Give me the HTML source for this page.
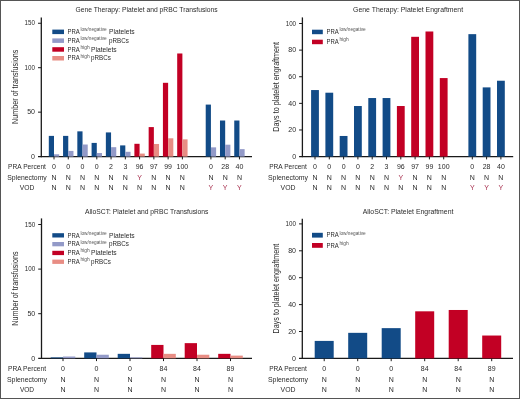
<!DOCTYPE html>
<html><head><meta charset="utf-8"><title>Platelet transfusions and engraftment</title>
<style>
html,body{margin:0;padding:0;background:#fff;}
body{width:520px;height:399px;overflow:hidden;}
svg{display:block;font-family:"Liberation Sans",sans-serif;will-change:transform;}
</style></head><body>
<svg width="520" height="399" viewBox="0 0 520 399">
<rect x="0" y="0" width="520" height="399" fill="#ffffff"/>
<text x="75.4" y="11.9" font-size="7.4" text-anchor="start" fill="#2a2a2a" textLength="142.3" lengthAdjust="spacingAndGlyphs">Gene Therapy: Platelet and pRBC Transfusions</text>
<line x1="41.3" y1="17.5" x2="41.3" y2="157.2" stroke="#1a1a1a" stroke-width="1.3"/>
<line x1="38" y1="156.6" x2="252" y2="156.6" stroke="#1a1a1a" stroke-width="1.3"/>
<text x="35" y="158.8" font-size="7" text-anchor="end" fill="#2a2a2a">0</text>
<line x1="38" y1="112.15" x2="41.3" y2="112.15" stroke="#1a1a1a" stroke-width="1"/>
<text x="35" y="114.35" font-size="7" text-anchor="end" fill="#2a2a2a">50</text>
<line x1="38" y1="67.7" x2="41.3" y2="67.7" stroke="#1a1a1a" stroke-width="1"/>
<text x="35" y="69.9" font-size="7" text-anchor="end" fill="#2a2a2a" textLength="10.4" lengthAdjust="spacingAndGlyphs">100</text>
<line x1="38" y1="23.25" x2="41.3" y2="23.25" stroke="#1a1a1a" stroke-width="1"/>
<text x="35" y="25.45" font-size="7" text-anchor="end" fill="#2a2a2a" textLength="10.4" lengthAdjust="spacingAndGlyphs">150</text>
<text transform="translate(17.8,86.8) rotate(-90)" x="0" y="0" font-size="8.5" text-anchor="middle" fill="#2a2a2a" textLength="74.2" lengthAdjust="spacingAndGlyphs">Number of transfusions</text>
<rect x="48.8" y="135.89" width="5.2" height="20.71" fill="#124b87"/>
<rect x="54" y="154.29" width="5.2" height="2.31" fill="#939ac8"/>
<line x1="54" y1="156.6" x2="54" y2="159.4" stroke="#1a1a1a" stroke-width="1"/>
<rect x="63.06" y="135.89" width="5.2" height="20.71" fill="#124b87"/>
<rect x="68.27" y="150.91" width="5.2" height="5.69" fill="#939ac8"/>
<line x1="68.27" y1="156.6" x2="68.27" y2="159.4" stroke="#1a1a1a" stroke-width="1"/>
<rect x="77.33" y="131.35" width="5.2" height="25.25" fill="#124b87"/>
<rect x="82.53" y="144.51" width="5.2" height="12.09" fill="#939ac8"/>
<line x1="82.53" y1="156.6" x2="82.53" y2="159.4" stroke="#1a1a1a" stroke-width="1"/>
<rect x="91.59" y="142.91" width="5.2" height="13.69" fill="#124b87"/>
<rect x="96.8" y="153.04" width="5.2" height="3.56" fill="#939ac8"/>
<line x1="96.8" y1="156.6" x2="96.8" y2="159.4" stroke="#1a1a1a" stroke-width="1"/>
<rect x="105.86" y="132.42" width="5.2" height="24.18" fill="#124b87"/>
<rect x="111.06" y="147.18" width="5.2" height="9.42" fill="#939ac8"/>
<line x1="111.06" y1="156.6" x2="111.06" y2="159.4" stroke="#1a1a1a" stroke-width="1"/>
<rect x="120.12" y="145.4" width="5.2" height="11.2" fill="#124b87"/>
<rect x="125.33" y="151.8" width="5.2" height="4.8" fill="#939ac8"/>
<line x1="125.33" y1="156.6" x2="125.33" y2="159.4" stroke="#1a1a1a" stroke-width="1"/>
<rect x="134.39" y="143.8" width="5.2" height="12.8" fill="#c20024"/>
<rect x="139.59" y="153.58" width="5.2" height="3.02" fill="#e88d84"/>
<line x1="139.59" y1="156.6" x2="139.59" y2="159.4" stroke="#1a1a1a" stroke-width="1"/>
<rect x="148.66" y="127.09" width="5.2" height="29.51" fill="#c20024"/>
<rect x="153.86" y="143.98" width="5.2" height="12.62" fill="#e88d84"/>
<line x1="153.86" y1="156.6" x2="153.86" y2="159.4" stroke="#1a1a1a" stroke-width="1"/>
<rect x="162.92" y="82.81" width="5.2" height="73.79" fill="#c20024"/>
<rect x="168.12" y="138.29" width="5.2" height="18.31" fill="#e88d84"/>
<line x1="168.12" y1="156.6" x2="168.12" y2="159.4" stroke="#1a1a1a" stroke-width="1"/>
<rect x="177.19" y="53.48" width="5.2" height="103.12" fill="#c20024"/>
<rect x="182.38" y="139.35" width="5.2" height="17.25" fill="#e88d84"/>
<line x1="182.38" y1="156.6" x2="182.38" y2="159.4" stroke="#1a1a1a" stroke-width="1"/>
<rect x="205.72" y="104.59" width="5.2" height="52.01" fill="#124b87"/>
<rect x="210.92" y="147.35" width="5.2" height="9.25" fill="#939ac8"/>
<line x1="210.92" y1="156.6" x2="210.92" y2="159.4" stroke="#1a1a1a" stroke-width="1"/>
<rect x="219.98" y="120.51" width="5.2" height="36.09" fill="#124b87"/>
<rect x="225.18" y="144.69" width="5.2" height="11.91" fill="#939ac8"/>
<line x1="225.18" y1="156.6" x2="225.18" y2="159.4" stroke="#1a1a1a" stroke-width="1"/>
<rect x="234.25" y="120.51" width="5.2" height="36.09" fill="#124b87"/>
<rect x="239.44" y="149.13" width="5.2" height="7.47" fill="#939ac8"/>
<line x1="239.44" y1="156.6" x2="239.44" y2="159.4" stroke="#1a1a1a" stroke-width="1"/>
<rect x="52.3" y="29.6" width="11.7" height="4.5" fill="#124b87"/>
<text x="67.5" y="34" font-size="7" text-anchor="start" fill="#2a2a2a" textLength="12.3" lengthAdjust="spacingAndGlyphs">PRA</text>
<text x="80.4" y="31.2" font-size="5" text-anchor="start" fill="#555555" textLength="26.3" lengthAdjust="spacingAndGlyphs">low/negative</text>
<text x="109" y="34" font-size="7" text-anchor="start" fill="#2a2a2a" textLength="25.6" lengthAdjust="spacingAndGlyphs">Platelets</text>
<rect x="52.3" y="38.4" width="11.7" height="4.5" fill="#939ac8"/>
<text x="67.5" y="42.8" font-size="7" text-anchor="start" fill="#2a2a2a" textLength="12.3" lengthAdjust="spacingAndGlyphs">PRA</text>
<text x="80.4" y="40" font-size="5" text-anchor="start" fill="#555555" textLength="26.3" lengthAdjust="spacingAndGlyphs">low/negative</text>
<text x="109" y="42.8" font-size="7" text-anchor="start" fill="#2a2a2a" textLength="19.8" lengthAdjust="spacingAndGlyphs">pRBCs</text>
<rect x="52.3" y="47.2" width="11.7" height="4.5" fill="#c20024"/>
<text x="67.5" y="51.6" font-size="7" text-anchor="start" fill="#2a2a2a" textLength="12.3" lengthAdjust="spacingAndGlyphs">PRA</text>
<text x="80.4" y="48.8" font-size="5" text-anchor="start" fill="#555555" textLength="9.2" lengthAdjust="spacingAndGlyphs">high</text>
<text x="91" y="51.6" font-size="7" text-anchor="start" fill="#2a2a2a" textLength="25.6" lengthAdjust="spacingAndGlyphs">Platelets</text>
<rect x="52.3" y="56" width="11.7" height="4.5" fill="#e88d84"/>
<text x="67.5" y="60.4" font-size="7" text-anchor="start" fill="#2a2a2a" textLength="12.3" lengthAdjust="spacingAndGlyphs">PRA</text>
<text x="80.4" y="57.6" font-size="5" text-anchor="start" fill="#555555" textLength="9.2" lengthAdjust="spacingAndGlyphs">high</text>
<text x="91" y="60.4" font-size="7" text-anchor="start" fill="#2a2a2a" textLength="19.8" lengthAdjust="spacingAndGlyphs">pRBCs</text>
<text x="27" y="169.3" font-size="7" text-anchor="middle" fill="#2a2a2a" textLength="37.8" lengthAdjust="spacingAndGlyphs">PRA Percent</text>
<text x="27" y="179.9" font-size="7" text-anchor="middle" fill="#2a2a2a" textLength="39.5" lengthAdjust="spacingAndGlyphs">Splenectomy</text>
<text x="27" y="190.3" font-size="7" text-anchor="middle" fill="#2a2a2a" textLength="14.6" lengthAdjust="spacingAndGlyphs">VOD</text>
<text x="54" y="169.3" font-size="7" text-anchor="middle" fill="#2a2a2a">0</text>
<text x="54" y="179.9" font-size="7" text-anchor="middle" fill="#2a2a2a">N</text>
<text x="54" y="190.3" font-size="7" text-anchor="middle" fill="#2a2a2a">N</text>
<text x="68.27" y="169.3" font-size="7" text-anchor="middle" fill="#2a2a2a">0</text>
<text x="68.27" y="179.9" font-size="7" text-anchor="middle" fill="#2a2a2a">N</text>
<text x="68.27" y="190.3" font-size="7" text-anchor="middle" fill="#2a2a2a">N</text>
<text x="82.53" y="169.3" font-size="7" text-anchor="middle" fill="#2a2a2a">0</text>
<text x="82.53" y="179.9" font-size="7" text-anchor="middle" fill="#2a2a2a">N</text>
<text x="82.53" y="190.3" font-size="7" text-anchor="middle" fill="#2a2a2a">N</text>
<text x="96.8" y="169.3" font-size="7" text-anchor="middle" fill="#2a2a2a">0</text>
<text x="96.8" y="179.9" font-size="7" text-anchor="middle" fill="#2a2a2a">N</text>
<text x="96.8" y="190.3" font-size="7" text-anchor="middle" fill="#2a2a2a">N</text>
<text x="111.06" y="169.3" font-size="7" text-anchor="middle" fill="#2a2a2a">2</text>
<text x="111.06" y="179.9" font-size="7" text-anchor="middle" fill="#2a2a2a">N</text>
<text x="111.06" y="190.3" font-size="7" text-anchor="middle" fill="#2a2a2a">N</text>
<text x="125.33" y="169.3" font-size="7" text-anchor="middle" fill="#2a2a2a">3</text>
<text x="125.33" y="179.9" font-size="7" text-anchor="middle" fill="#2a2a2a">N</text>
<text x="125.33" y="190.3" font-size="7" text-anchor="middle" fill="#2a2a2a">N</text>
<text x="139.59" y="169.3" font-size="7" text-anchor="middle" fill="#2a2a2a">96</text>
<text x="139.59" y="179.9" font-size="7" text-anchor="middle" fill="#a8304f">Y</text>
<text x="139.59" y="190.3" font-size="7" text-anchor="middle" fill="#2a2a2a">N</text>
<text x="153.86" y="169.3" font-size="7" text-anchor="middle" fill="#2a2a2a">97</text>
<text x="153.86" y="179.9" font-size="7" text-anchor="middle" fill="#2a2a2a">N</text>
<text x="153.86" y="190.3" font-size="7" text-anchor="middle" fill="#2a2a2a">N</text>
<text x="168.12" y="169.3" font-size="7" text-anchor="middle" fill="#2a2a2a">99</text>
<text x="168.12" y="179.9" font-size="7" text-anchor="middle" fill="#2a2a2a">N</text>
<text x="168.12" y="190.3" font-size="7" text-anchor="middle" fill="#2a2a2a">N</text>
<text x="182.38" y="169.3" font-size="7" text-anchor="middle" fill="#2a2a2a">100</text>
<text x="182.38" y="179.9" font-size="7" text-anchor="middle" fill="#2a2a2a">N</text>
<text x="182.38" y="190.3" font-size="7" text-anchor="middle" fill="#2a2a2a">N</text>
<text x="210.92" y="169.3" font-size="7" text-anchor="middle" fill="#2a2a2a">0</text>
<text x="210.92" y="179.9" font-size="7" text-anchor="middle" fill="#2a2a2a">N</text>
<text x="210.92" y="190.3" font-size="7" text-anchor="middle" fill="#a8304f">Y</text>
<text x="225.18" y="169.3" font-size="7" text-anchor="middle" fill="#2a2a2a">28</text>
<text x="225.18" y="179.9" font-size="7" text-anchor="middle" fill="#2a2a2a">N</text>
<text x="225.18" y="190.3" font-size="7" text-anchor="middle" fill="#a8304f">Y</text>
<text x="239.44" y="169.3" font-size="7" text-anchor="middle" fill="#2a2a2a">40</text>
<text x="239.44" y="179.9" font-size="7" text-anchor="middle" fill="#2a2a2a">N</text>
<text x="239.44" y="190.3" font-size="7" text-anchor="middle" fill="#a8304f">Y</text>
<text x="353.1" y="11.9" font-size="7.4" text-anchor="start" fill="#2a2a2a" textLength="110" lengthAdjust="spacingAndGlyphs">Gene Therapy: Platelet Engraftment</text>
<line x1="302.4" y1="17.4" x2="302.4" y2="157.2" stroke="#1a1a1a" stroke-width="1.3"/>
<line x1="299.1" y1="156.6" x2="513.2" y2="156.6" stroke="#1a1a1a" stroke-width="1.3"/>
<text x="296.1" y="158.8" font-size="7" text-anchor="end" fill="#2a2a2a">0</text>
<line x1="299.1" y1="129.98" x2="302.4" y2="129.98" stroke="#1a1a1a" stroke-width="1"/>
<text x="296.1" y="132.18" font-size="7" text-anchor="end" fill="#2a2a2a">20</text>
<line x1="299.1" y1="103.36" x2="302.4" y2="103.36" stroke="#1a1a1a" stroke-width="1"/>
<text x="296.1" y="105.56" font-size="7" text-anchor="end" fill="#2a2a2a">40</text>
<line x1="299.1" y1="76.74" x2="302.4" y2="76.74" stroke="#1a1a1a" stroke-width="1"/>
<text x="296.1" y="78.94" font-size="7" text-anchor="end" fill="#2a2a2a">60</text>
<line x1="299.1" y1="50.12" x2="302.4" y2="50.12" stroke="#1a1a1a" stroke-width="1"/>
<text x="296.1" y="52.32" font-size="7" text-anchor="end" fill="#2a2a2a">80</text>
<line x1="299.1" y1="23.5" x2="302.4" y2="23.5" stroke="#1a1a1a" stroke-width="1"/>
<text x="296.1" y="25.7" font-size="7" text-anchor="end" fill="#2a2a2a" textLength="10.4" lengthAdjust="spacingAndGlyphs">100</text>
<text transform="translate(279.2,86.8) rotate(-90)" x="0" y="0" font-size="8.5" text-anchor="middle" fill="#2a2a2a" textLength="89.7" lengthAdjust="spacingAndGlyphs">Days to platelet engraftment</text>
<rect x="311.1" y="90.05" width="7.8" height="66.55" fill="#124b87"/>
<line x1="315" y1="156.6" x2="315" y2="159.4" stroke="#1a1a1a" stroke-width="1"/>
<rect x="325.4" y="92.71" width="7.8" height="63.89" fill="#124b87"/>
<line x1="329.3" y1="156.6" x2="329.3" y2="159.4" stroke="#1a1a1a" stroke-width="1"/>
<rect x="339.7" y="135.97" width="7.8" height="20.63" fill="#124b87"/>
<line x1="343.6" y1="156.6" x2="343.6" y2="159.4" stroke="#1a1a1a" stroke-width="1"/>
<rect x="354" y="106.02" width="7.8" height="50.58" fill="#124b87"/>
<line x1="357.9" y1="156.6" x2="357.9" y2="159.4" stroke="#1a1a1a" stroke-width="1"/>
<rect x="368.3" y="98.04" width="7.8" height="58.56" fill="#124b87"/>
<line x1="372.2" y1="156.6" x2="372.2" y2="159.4" stroke="#1a1a1a" stroke-width="1"/>
<rect x="382.6" y="98.04" width="7.8" height="58.56" fill="#124b87"/>
<line x1="386.5" y1="156.6" x2="386.5" y2="159.4" stroke="#1a1a1a" stroke-width="1"/>
<rect x="396.9" y="106.02" width="7.8" height="50.58" fill="#c20024"/>
<line x1="400.8" y1="156.6" x2="400.8" y2="159.4" stroke="#1a1a1a" stroke-width="1"/>
<rect x="411.2" y="36.81" width="7.8" height="119.79" fill="#c20024"/>
<line x1="415.1" y1="156.6" x2="415.1" y2="159.4" stroke="#1a1a1a" stroke-width="1"/>
<rect x="425.5" y="31.49" width="7.8" height="125.11" fill="#c20024"/>
<line x1="429.4" y1="156.6" x2="429.4" y2="159.4" stroke="#1a1a1a" stroke-width="1"/>
<rect x="439.8" y="78.07" width="7.8" height="78.53" fill="#c20024"/>
<line x1="443.7" y1="156.6" x2="443.7" y2="159.4" stroke="#1a1a1a" stroke-width="1"/>
<rect x="468.4" y="34.15" width="7.8" height="122.45" fill="#124b87"/>
<line x1="472.3" y1="156.6" x2="472.3" y2="159.4" stroke="#1a1a1a" stroke-width="1"/>
<rect x="482.7" y="87.39" width="7.8" height="69.21" fill="#124b87"/>
<line x1="486.6" y1="156.6" x2="486.6" y2="159.4" stroke="#1a1a1a" stroke-width="1"/>
<rect x="497" y="80.73" width="7.8" height="75.87" fill="#124b87"/>
<line x1="500.9" y1="156.6" x2="500.9" y2="159.4" stroke="#1a1a1a" stroke-width="1"/>
<rect x="312" y="29.7" width="10.8" height="4.5" fill="#124b87"/>
<text x="326.5" y="34" font-size="7" text-anchor="start" fill="#2a2a2a" textLength="12.3" lengthAdjust="spacingAndGlyphs">PRA</text>
<text x="339.4" y="31.2" font-size="5" text-anchor="start" fill="#555555" textLength="26.3" lengthAdjust="spacingAndGlyphs">low/negative</text>
<rect x="312" y="39.7" width="10.8" height="4.5" fill="#c20024"/>
<text x="326.5" y="44" font-size="7" text-anchor="start" fill="#2a2a2a" textLength="12.3" lengthAdjust="spacingAndGlyphs">PRA</text>
<text x="339.4" y="41.2" font-size="5" text-anchor="start" fill="#555555" textLength="9.2" lengthAdjust="spacingAndGlyphs">high</text>
<text x="288" y="169.1" font-size="7" text-anchor="middle" fill="#2a2a2a" textLength="37.7" lengthAdjust="spacingAndGlyphs">PRA Percent</text>
<text x="288" y="179.5" font-size="7" text-anchor="middle" fill="#2a2a2a" textLength="40" lengthAdjust="spacingAndGlyphs">Splenectomy</text>
<text x="288" y="190.3" font-size="7" text-anchor="middle" fill="#2a2a2a" textLength="14.9" lengthAdjust="spacingAndGlyphs">VOD</text>
<text x="315" y="169.1" font-size="7" text-anchor="middle" fill="#2a2a2a">0</text>
<text x="315" y="179.5" font-size="7" text-anchor="middle" fill="#2a2a2a">N</text>
<text x="315" y="190.3" font-size="7" text-anchor="middle" fill="#2a2a2a">N</text>
<text x="329.3" y="169.1" font-size="7" text-anchor="middle" fill="#2a2a2a">0</text>
<text x="329.3" y="179.5" font-size="7" text-anchor="middle" fill="#2a2a2a">N</text>
<text x="329.3" y="190.3" font-size="7" text-anchor="middle" fill="#2a2a2a">N</text>
<text x="343.6" y="169.1" font-size="7" text-anchor="middle" fill="#2a2a2a">0</text>
<text x="343.6" y="179.5" font-size="7" text-anchor="middle" fill="#2a2a2a">N</text>
<text x="343.6" y="190.3" font-size="7" text-anchor="middle" fill="#2a2a2a">N</text>
<text x="357.9" y="169.1" font-size="7" text-anchor="middle" fill="#2a2a2a">0</text>
<text x="357.9" y="179.5" font-size="7" text-anchor="middle" fill="#2a2a2a">N</text>
<text x="357.9" y="190.3" font-size="7" text-anchor="middle" fill="#2a2a2a">N</text>
<text x="372.2" y="169.1" font-size="7" text-anchor="middle" fill="#2a2a2a">2</text>
<text x="372.2" y="179.5" font-size="7" text-anchor="middle" fill="#2a2a2a">N</text>
<text x="372.2" y="190.3" font-size="7" text-anchor="middle" fill="#2a2a2a">N</text>
<text x="386.5" y="169.1" font-size="7" text-anchor="middle" fill="#2a2a2a">3</text>
<text x="386.5" y="179.5" font-size="7" text-anchor="middle" fill="#2a2a2a">N</text>
<text x="386.5" y="190.3" font-size="7" text-anchor="middle" fill="#2a2a2a">N</text>
<text x="400.8" y="169.1" font-size="7" text-anchor="middle" fill="#2a2a2a">96</text>
<text x="400.8" y="179.5" font-size="7" text-anchor="middle" fill="#a8304f">Y</text>
<text x="400.8" y="190.3" font-size="7" text-anchor="middle" fill="#2a2a2a">N</text>
<text x="415.1" y="169.1" font-size="7" text-anchor="middle" fill="#2a2a2a">97</text>
<text x="415.1" y="179.5" font-size="7" text-anchor="middle" fill="#2a2a2a">N</text>
<text x="415.1" y="190.3" font-size="7" text-anchor="middle" fill="#2a2a2a">N</text>
<text x="429.4" y="169.1" font-size="7" text-anchor="middle" fill="#2a2a2a">99</text>
<text x="429.4" y="179.5" font-size="7" text-anchor="middle" fill="#2a2a2a">N</text>
<text x="429.4" y="190.3" font-size="7" text-anchor="middle" fill="#2a2a2a">N</text>
<text x="443.7" y="169.1" font-size="7" text-anchor="middle" fill="#2a2a2a">100</text>
<text x="443.7" y="179.5" font-size="7" text-anchor="middle" fill="#2a2a2a">N</text>
<text x="443.7" y="190.3" font-size="7" text-anchor="middle" fill="#2a2a2a">N</text>
<text x="472.3" y="169.1" font-size="7" text-anchor="middle" fill="#2a2a2a">0</text>
<text x="472.3" y="179.5" font-size="7" text-anchor="middle" fill="#2a2a2a">N</text>
<text x="472.3" y="190.3" font-size="7" text-anchor="middle" fill="#a8304f">Y</text>
<text x="486.6" y="169.1" font-size="7" text-anchor="middle" fill="#2a2a2a">28</text>
<text x="486.6" y="179.5" font-size="7" text-anchor="middle" fill="#2a2a2a">N</text>
<text x="486.6" y="190.3" font-size="7" text-anchor="middle" fill="#a8304f">Y</text>
<text x="500.9" y="169.1" font-size="7" text-anchor="middle" fill="#2a2a2a">40</text>
<text x="500.9" y="179.5" font-size="7" text-anchor="middle" fill="#2a2a2a">N</text>
<text x="500.9" y="190.3" font-size="7" text-anchor="middle" fill="#a8304f">Y</text>
<text x="85.1" y="214" font-size="7.4" text-anchor="start" fill="#2a2a2a" textLength="123.4" lengthAdjust="spacingAndGlyphs">AlloSCT: Platelet and pRBC Transfusions</text>
<line x1="41.5" y1="218.4" x2="41.5" y2="358.9" stroke="#1a1a1a" stroke-width="1.3"/>
<line x1="38.2" y1="358.3" x2="252" y2="358.3" stroke="#1a1a1a" stroke-width="1.3"/>
<text x="35.2" y="360.5" font-size="7" text-anchor="end" fill="#2a2a2a">0</text>
<line x1="38.2" y1="313.7" x2="41.5" y2="313.7" stroke="#1a1a1a" stroke-width="1"/>
<text x="35.2" y="315.9" font-size="7" text-anchor="end" fill="#2a2a2a">50</text>
<line x1="38.2" y1="269.1" x2="41.5" y2="269.1" stroke="#1a1a1a" stroke-width="1"/>
<text x="35.2" y="271.3" font-size="7" text-anchor="end" fill="#2a2a2a" textLength="10.4" lengthAdjust="spacingAndGlyphs">100</text>
<line x1="38.2" y1="224.5" x2="41.5" y2="224.5" stroke="#1a1a1a" stroke-width="1"/>
<text x="35.2" y="226.7" font-size="7" text-anchor="end" fill="#2a2a2a" textLength="10.4" lengthAdjust="spacingAndGlyphs">150</text>
<text transform="translate(17.8,288.6) rotate(-90)" x="0" y="0" font-size="8.5" text-anchor="middle" fill="#2a2a2a" textLength="74.2" lengthAdjust="spacingAndGlyphs">Number of transfusions</text>
<rect x="50.7" y="357.41" width="12.3" height="0.89" fill="#124b87"/>
<rect x="63" y="356.52" width="12.3" height="1.78" fill="#939ac8"/>
<line x1="63" y1="358.3" x2="63" y2="361.1" stroke="#1a1a1a" stroke-width="1"/>
<rect x="84.2" y="352.41" width="12.3" height="5.89" fill="#124b87"/>
<rect x="96.5" y="354.73" width="12.3" height="3.57" fill="#939ac8"/>
<line x1="96.5" y1="358.3" x2="96.5" y2="361.1" stroke="#1a1a1a" stroke-width="1"/>
<rect x="117.7" y="353.84" width="12.3" height="4.46" fill="#124b87"/>
<rect x="130" y="357.41" width="12.3" height="0.89" fill="#939ac8"/>
<line x1="130" y1="358.3" x2="130" y2="361.1" stroke="#1a1a1a" stroke-width="1"/>
<rect x="151.2" y="344.92" width="12.3" height="13.38" fill="#c20024"/>
<rect x="163.5" y="353.84" width="12.3" height="4.46" fill="#e88d84"/>
<line x1="163.5" y1="358.3" x2="163.5" y2="361.1" stroke="#1a1a1a" stroke-width="1"/>
<rect x="184.7" y="343.14" width="12.3" height="15.16" fill="#c20024"/>
<rect x="197" y="354.73" width="12.3" height="3.57" fill="#e88d84"/>
<line x1="197" y1="358.3" x2="197" y2="361.1" stroke="#1a1a1a" stroke-width="1"/>
<rect x="218.2" y="353.84" width="12.3" height="4.46" fill="#c20024"/>
<rect x="230.5" y="355.62" width="12.3" height="2.68" fill="#e88d84"/>
<line x1="230.5" y1="358.3" x2="230.5" y2="361.1" stroke="#1a1a1a" stroke-width="1"/>
<rect x="52.3" y="233.2" width="11.7" height="4.3" fill="#124b87"/>
<text x="67.5" y="237.6" font-size="7" text-anchor="start" fill="#2a2a2a" textLength="12.3" lengthAdjust="spacingAndGlyphs">PRA</text>
<text x="80.4" y="234.8" font-size="5" text-anchor="start" fill="#555555" textLength="26.3" lengthAdjust="spacingAndGlyphs">low/negative</text>
<text x="109" y="237.6" font-size="7" text-anchor="start" fill="#2a2a2a" textLength="25.6" lengthAdjust="spacingAndGlyphs">Platelets</text>
<rect x="52.3" y="242" width="11.7" height="4.3" fill="#939ac8"/>
<text x="67.5" y="246.4" font-size="7" text-anchor="start" fill="#2a2a2a" textLength="12.3" lengthAdjust="spacingAndGlyphs">PRA</text>
<text x="80.4" y="243.6" font-size="5" text-anchor="start" fill="#555555" textLength="26.3" lengthAdjust="spacingAndGlyphs">low/negative</text>
<text x="109" y="246.4" font-size="7" text-anchor="start" fill="#2a2a2a" textLength="19.8" lengthAdjust="spacingAndGlyphs">pRBCs</text>
<rect x="52.3" y="250.8" width="11.7" height="4.3" fill="#c20024"/>
<text x="67.5" y="255.2" font-size="7" text-anchor="start" fill="#2a2a2a" textLength="12.3" lengthAdjust="spacingAndGlyphs">PRA</text>
<text x="80.4" y="252.4" font-size="5" text-anchor="start" fill="#555555" textLength="9.2" lengthAdjust="spacingAndGlyphs">high</text>
<text x="91" y="255.2" font-size="7" text-anchor="start" fill="#2a2a2a" textLength="25.6" lengthAdjust="spacingAndGlyphs">Platelets</text>
<rect x="52.3" y="259.6" width="11.7" height="4.3" fill="#e88d84"/>
<text x="67.5" y="264" font-size="7" text-anchor="start" fill="#2a2a2a" textLength="12.3" lengthAdjust="spacingAndGlyphs">PRA</text>
<text x="80.4" y="261.2" font-size="5" text-anchor="start" fill="#555555" textLength="9.2" lengthAdjust="spacingAndGlyphs">high</text>
<text x="91" y="264" font-size="7" text-anchor="start" fill="#2a2a2a" textLength="19.8" lengthAdjust="spacingAndGlyphs">pRBCs</text>
<text x="27" y="370.8" font-size="7" text-anchor="middle" fill="#2a2a2a" textLength="38.1" lengthAdjust="spacingAndGlyphs">PRA Percent</text>
<text x="27" y="381.9" font-size="7" text-anchor="middle" fill="#2a2a2a" textLength="40" lengthAdjust="spacingAndGlyphs">Splenectomy</text>
<text x="27" y="392.3" font-size="7" text-anchor="middle" fill="#2a2a2a" textLength="14.2" lengthAdjust="spacingAndGlyphs">VOD</text>
<text x="63" y="370.8" font-size="7" text-anchor="middle" fill="#2a2a2a">0</text>
<text x="63" y="381.9" font-size="7" text-anchor="middle" fill="#2a2a2a">N</text>
<text x="63" y="392.3" font-size="7" text-anchor="middle" fill="#2a2a2a">N</text>
<text x="96.5" y="370.8" font-size="7" text-anchor="middle" fill="#2a2a2a">0</text>
<text x="96.5" y="381.9" font-size="7" text-anchor="middle" fill="#2a2a2a">N</text>
<text x="96.5" y="392.3" font-size="7" text-anchor="middle" fill="#2a2a2a">N</text>
<text x="130" y="370.8" font-size="7" text-anchor="middle" fill="#2a2a2a">0</text>
<text x="130" y="381.9" font-size="7" text-anchor="middle" fill="#2a2a2a">N</text>
<text x="130" y="392.3" font-size="7" text-anchor="middle" fill="#2a2a2a">N</text>
<text x="163.5" y="370.8" font-size="7" text-anchor="middle" fill="#2a2a2a">84</text>
<text x="163.5" y="381.9" font-size="7" text-anchor="middle" fill="#2a2a2a">N</text>
<text x="163.5" y="392.3" font-size="7" text-anchor="middle" fill="#2a2a2a">N</text>
<text x="197" y="370.8" font-size="7" text-anchor="middle" fill="#2a2a2a">84</text>
<text x="197" y="381.9" font-size="7" text-anchor="middle" fill="#2a2a2a">N</text>
<text x="197" y="392.3" font-size="7" text-anchor="middle" fill="#2a2a2a">N</text>
<text x="230.5" y="370.8" font-size="7" text-anchor="middle" fill="#2a2a2a">89</text>
<text x="230.5" y="381.9" font-size="7" text-anchor="middle" fill="#2a2a2a">N</text>
<text x="230.5" y="392.3" font-size="7" text-anchor="middle" fill="#2a2a2a">N</text>
<text x="362.7" y="214" font-size="7.4" text-anchor="start" fill="#2a2a2a" textLength="90.7" lengthAdjust="spacingAndGlyphs">AlloSCT: Platelet Engraftment</text>
<line x1="302.3" y1="218.7" x2="302.3" y2="359" stroke="#1a1a1a" stroke-width="1.3"/>
<line x1="299" y1="358.4" x2="513" y2="358.4" stroke="#1a1a1a" stroke-width="1.3"/>
<text x="296" y="360.6" font-size="7" text-anchor="end" fill="#2a2a2a">0</text>
<line x1="299" y1="331.5" x2="302.3" y2="331.5" stroke="#1a1a1a" stroke-width="1"/>
<text x="296" y="333.7" font-size="7" text-anchor="end" fill="#2a2a2a">20</text>
<line x1="299" y1="304.6" x2="302.3" y2="304.6" stroke="#1a1a1a" stroke-width="1"/>
<text x="296" y="306.8" font-size="7" text-anchor="end" fill="#2a2a2a">40</text>
<line x1="299" y1="277.7" x2="302.3" y2="277.7" stroke="#1a1a1a" stroke-width="1"/>
<text x="296" y="279.9" font-size="7" text-anchor="end" fill="#2a2a2a">60</text>
<line x1="299" y1="250.8" x2="302.3" y2="250.8" stroke="#1a1a1a" stroke-width="1"/>
<text x="296" y="253" font-size="7" text-anchor="end" fill="#2a2a2a">80</text>
<line x1="299" y1="223.9" x2="302.3" y2="223.9" stroke="#1a1a1a" stroke-width="1"/>
<text x="296" y="226.1" font-size="7" text-anchor="end" fill="#2a2a2a" textLength="10.4" lengthAdjust="spacingAndGlyphs">100</text>
<text transform="translate(279.2,288.6) rotate(-90)" x="0" y="0" font-size="8.5" text-anchor="middle" fill="#2a2a2a" textLength="89.7" lengthAdjust="spacingAndGlyphs">Days to platelet engraftment</text>
<rect x="314.7" y="340.91" width="19" height="17.48" fill="#124b87"/>
<line x1="324.2" y1="358.4" x2="324.2" y2="361.2" stroke="#1a1a1a" stroke-width="1"/>
<rect x="348.2" y="332.84" width="19" height="25.55" fill="#124b87"/>
<line x1="357.7" y1="358.4" x2="357.7" y2="361.2" stroke="#1a1a1a" stroke-width="1"/>
<rect x="381.7" y="328.14" width="19" height="30.26" fill="#124b87"/>
<line x1="391.2" y1="358.4" x2="391.2" y2="361.2" stroke="#1a1a1a" stroke-width="1"/>
<rect x="415.2" y="311.32" width="19" height="47.07" fill="#c20024"/>
<line x1="424.7" y1="358.4" x2="424.7" y2="361.2" stroke="#1a1a1a" stroke-width="1"/>
<rect x="448.7" y="309.98" width="19" height="48.42" fill="#c20024"/>
<line x1="458.2" y1="358.4" x2="458.2" y2="361.2" stroke="#1a1a1a" stroke-width="1"/>
<rect x="482.2" y="335.53" width="19" height="22.86" fill="#c20024"/>
<line x1="491.7" y1="358.4" x2="491.7" y2="361.2" stroke="#1a1a1a" stroke-width="1"/>
<rect x="312" y="232.8" width="10.8" height="4.8" fill="#124b87"/>
<text x="326.5" y="237.3" font-size="7" text-anchor="start" fill="#2a2a2a" textLength="12.3" lengthAdjust="spacingAndGlyphs">PRA</text>
<text x="339.4" y="234.5" font-size="5" text-anchor="start" fill="#555555" textLength="26.3" lengthAdjust="spacingAndGlyphs">low/negative</text>
<rect x="312" y="243" width="10.8" height="4.8" fill="#c20024"/>
<text x="326.5" y="247.5" font-size="7" text-anchor="start" fill="#2a2a2a" textLength="12.3" lengthAdjust="spacingAndGlyphs">PRA</text>
<text x="339.4" y="244.7" font-size="5" text-anchor="start" fill="#555555" textLength="9.2" lengthAdjust="spacingAndGlyphs">high</text>
<text x="288" y="370.8" font-size="7" text-anchor="middle" fill="#2a2a2a" textLength="37.7" lengthAdjust="spacingAndGlyphs">PRA Percent</text>
<text x="288" y="381.9" font-size="7" text-anchor="middle" fill="#2a2a2a" textLength="40" lengthAdjust="spacingAndGlyphs">Splenectomy</text>
<text x="288" y="392.3" font-size="7" text-anchor="middle" fill="#2a2a2a" textLength="14.9" lengthAdjust="spacingAndGlyphs">VOD</text>
<text x="324.2" y="370.8" font-size="7" text-anchor="middle" fill="#2a2a2a">0</text>
<text x="324.2" y="381.9" font-size="7" text-anchor="middle" fill="#2a2a2a">N</text>
<text x="324.2" y="392.3" font-size="7" text-anchor="middle" fill="#2a2a2a">N</text>
<text x="357.7" y="370.8" font-size="7" text-anchor="middle" fill="#2a2a2a">0</text>
<text x="357.7" y="381.9" font-size="7" text-anchor="middle" fill="#2a2a2a">N</text>
<text x="357.7" y="392.3" font-size="7" text-anchor="middle" fill="#2a2a2a">N</text>
<text x="391.2" y="370.8" font-size="7" text-anchor="middle" fill="#2a2a2a">0</text>
<text x="391.2" y="381.9" font-size="7" text-anchor="middle" fill="#2a2a2a">N</text>
<text x="391.2" y="392.3" font-size="7" text-anchor="middle" fill="#2a2a2a">N</text>
<text x="424.7" y="370.8" font-size="7" text-anchor="middle" fill="#2a2a2a">84</text>
<text x="424.7" y="381.9" font-size="7" text-anchor="middle" fill="#2a2a2a">N</text>
<text x="424.7" y="392.3" font-size="7" text-anchor="middle" fill="#2a2a2a">N</text>
<text x="458.2" y="370.8" font-size="7" text-anchor="middle" fill="#2a2a2a">84</text>
<text x="458.2" y="381.9" font-size="7" text-anchor="middle" fill="#2a2a2a">N</text>
<text x="458.2" y="392.3" font-size="7" text-anchor="middle" fill="#2a2a2a">N</text>
<text x="491.7" y="370.8" font-size="7" text-anchor="middle" fill="#2a2a2a">89</text>
<text x="491.7" y="381.9" font-size="7" text-anchor="middle" fill="#2a2a2a">N</text>
<text x="491.7" y="392.3" font-size="7" text-anchor="middle" fill="#2a2a2a">N</text>
<rect x="0.5" y="0.5" width="519" height="398" fill="none" stroke="#555555" stroke-width="1"/>
</svg>
</body></html>
